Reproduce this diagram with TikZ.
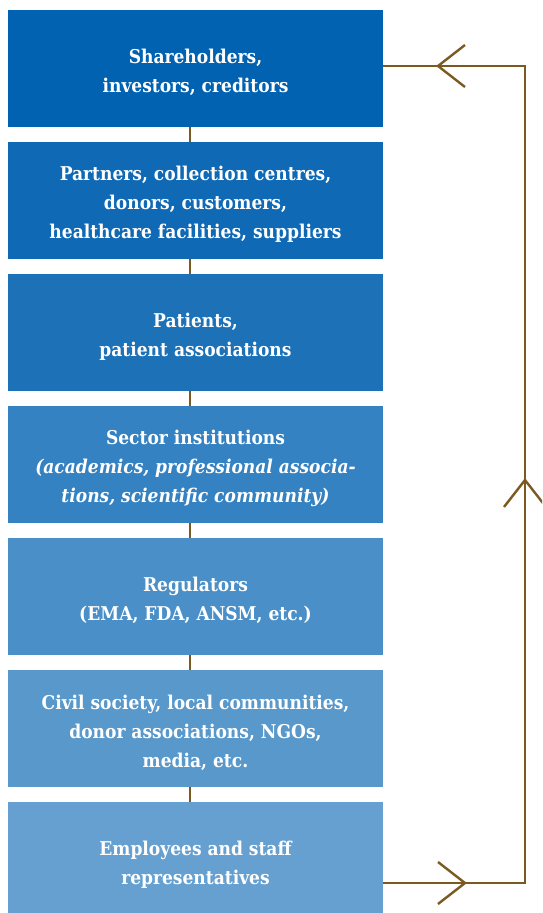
\documentclass[tikz,border=0pt]{standalone}
\usepackage{fontspec}
\setmainfont{DejaVu Serif Condensed}[
  BoldFont={DejaVu Serif Condensed Bold},
  ItalicFont={DejaVu Serif Condensed Italic},
  BoldItalicFont={DejaVu Serif Condensed Bold Italic}]
\definecolor{tierA}{HTML}{0062B0}
\definecolor{tierB}{HTML}{0F69B4}
\definecolor{tierC}{HTML}{1C71B7}
\definecolor{tierD}{HTML}{3582C2}
\definecolor{tierE}{HTML}{4A8FC7}
\definecolor{tierF}{HTML}{5898CB}
\definecolor{tierG}{HTML}{66A0D0}
\definecolor{linkbrown}{HTML}{7A5A20}
\tikzset{
  stakebox/.style={minimum width=375pt, minimum height=117pt, inner sep=0pt},
  tiertext/.style={inner sep=0pt, text=white, align=center,
    font=\fontsize{19}{29}\selectfont\bfseries},
  link/.style={draw=linkbrown, line width=2.4pt},
  chevron/.style={draw=linkbrown, line width=2.4pt, line join=miter}
}
\begin{document}
\begin{tikzpicture}[x=1pt,y=-1pt]
\useasboundingbox (0,0) rectangle (542,913);
\clip (0,0) rectangle (542,913);

% stakeholder tiers
\node[stakebox, fill=tierA] (b1) at (195.5,68.5) {};
\node[stakebox, fill=tierB] (b2) at (195.5,200.5) {};
\node[stakebox, fill=tierC] (b3) at (195.5,332.5) {};
\node[stakebox, fill=tierD] (b4) at (195.5,464.5) {};
\node[stakebox, fill=tierE] (b5) at (195.5,596.5) {};
\node[stakebox, fill=tierF] (b6) at (195.5,728.5) {};
\node[stakebox, fill=tierG] (b7) at (195.5,860.5) {};

% tier labels, set slightly below each box centre
\node[tiertext] (t1) at ([yshift=-4pt]b1.center) {Shareholders,\\investors, creditors};
\node[tiertext] (t2) at ([yshift=-4pt]b2.center) {Partners, collection centres,\\donors, customers,\\healthcare facilities, suppliers};
\node[tiertext] (t3) at ([yshift=-4pt]b3.center) {Patients,\\patient associations};
\node[tiertext] (t4) at ([yshift=-4pt]b4.center) {Sector institutions\\\itshape(academics, professional associa-\\\itshape tions, scientific community)};
\node[tiertext] (t5) at ([yshift=-4pt]b5.center) {Regulators\\(EMA, FDA, ANSM, etc.)};
\node[tiertext] (t6) at ([yshift=-4pt]b6.center) {Civil society, local communities,\\donor associations, NGOs,\\media, etc.};
\node[tiertext] (t7) at ([yshift=-4pt]b7.center) {Employees and staff\\representatives};

% vertical links between tiers
\foreach \a/\b in {b1/b2,b2/b3,b3/b4,b4/b5,b5/b6,b6/b7}
  \draw[link] ([xshift=-5.5pt]\a.south) -- ([xshift=-5.5pt]\b.north);

% feedback loop from employees back to shareholders
\coordinate (loopin) at ([yshift=-22.5pt]b7.east);
\coordinate (loopout) at ([yshift=2.5pt]b1.east);
\coordinate (cornerB) at (525,883);
\coordinate (cornerT) at (525,66);
\draw[link] (loopin) -- (cornerB) -- (cornerT) -- (loopout);

% open chevrons along the loop
\draw[chevron] (438,862) -- (465,883) -- (438,904);
\draw[chevron] (504,507) -- (525,480) -- (546,507);
\draw[chevron] (465,45) -- (438,66) -- (465,87);
\end{tikzpicture}
\end{document}
